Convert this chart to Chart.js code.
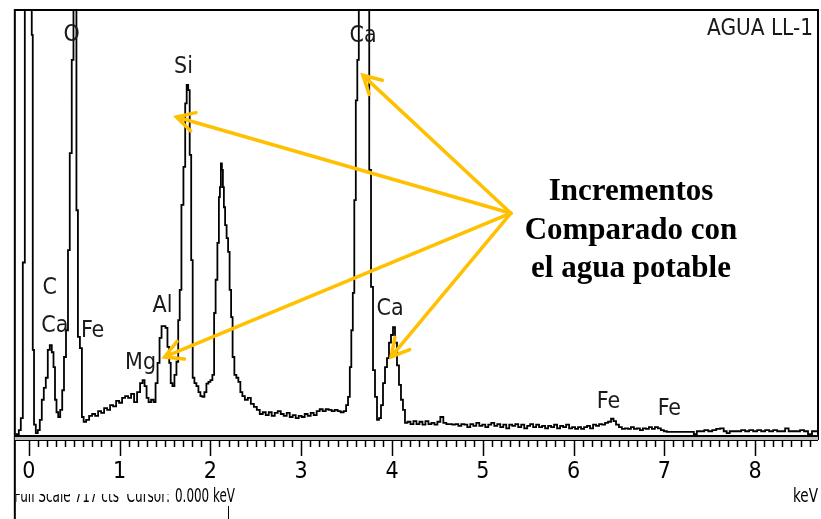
<!DOCTYPE html>
<html>
<head>
<meta charset="utf-8">
<script src="https://cdn.jsdelivr.net/npm/chart.js@4.4.0/dist/chart.umd.min.js"></script>
<style>
  html, body { margin: 0; padding: 0; background: #fff; }
  canvas { display: block; }
</style>
</head>
<body>
<canvas id="myChart" width="821" height="519"></canvas>
<script>
// EDS spectrum "AGUA LL-1": energy (keV) and counts
var energyKeV = [
  -0.154, -0.121, -0.099, -0.077, -0.055, -0.033, -0.011, 0.011, 0.027, 0.038,
  0.049, 0.066, 0.088, 0.110, 0.132, 0.154, 0.176, 0.198, 0.220, 0.242,
  0.264, 0.280, 0.297, 0.313, 0.335, 0.357, 0.379, 0.396, 0.423, 0.440,
  0.462, 0.484, 0.500, 0.516, 0.533, 0.549, 0.577, 0.593, 0.615, 0.648,
  0.681, 0.714, 0.747, 0.780, 0.813, 0.846, 0.879, 0.912, 0.945, 0.978,
  1.011, 1.044, 1.077, 1.110, 1.143, 1.176, 1.209, 1.242, 1.264, 1.286,
  1.308, 1.330, 1.363, 1.385, 1.407, 1.429, 1.451, 1.473, 1.495, 1.516,
  1.538, 1.555, 1.571, 1.593, 1.615, 1.637, 1.654, 1.670, 1.692, 1.714,
  1.731, 1.747, 1.764, 1.780, 1.797, 1.813, 1.835, 1.857, 1.879, 1.901,
  1.923, 1.945, 1.967, 1.989, 2.011, 2.033, 2.049, 2.066, 2.088, 2.099,
  2.110, 2.121, 2.132, 2.143, 2.154, 2.170, 2.187, 2.203, 2.220, 2.236,
  2.253, 2.275, 2.297, 2.319, 2.341, 2.363, 2.396, 2.429, 2.462, 2.495,
  2.527, 2.560, 2.593, 2.626, 2.659, 2.692, 2.725, 2.758, 2.791, 2.824,
  2.857, 2.890, 2.923, 2.956, 2.989, 3.022, 3.055, 3.088, 3.121, 3.154,
  3.187, 3.220, 3.253, 3.286, 3.319, 3.352, 3.385, 3.418, 3.451, 3.484,
  3.505, 3.527, 3.544, 3.560, 3.577, 3.593, 3.610, 3.626, 3.643, 3.659,
  3.681, 3.703, 3.725, 3.741, 3.758, 3.780, 3.802, 3.824, 3.846, 3.868,
  3.890, 3.912, 3.934, 3.956, 3.978, 4.000, 4.022, 4.044, 4.066, 4.088,
  4.110, 4.132, 4.154, 4.187, 4.220, 4.253, 4.286, 4.319, 4.352, 4.385,
  4.418, 4.451, 4.484, 4.516, 4.549, 4.582, 4.615, 4.648, 4.681, 4.714,
  4.747, 4.780, 4.813, 4.846, 4.879, 4.912, 4.945, 4.978, 5.011, 5.044,
  5.077, 5.110, 5.143, 5.176, 5.209, 5.242, 5.275, 5.308, 5.341, 5.374,
  5.407, 5.440, 5.473, 5.505, 5.538, 5.571, 5.604, 5.637, 5.670, 5.703,
  5.736, 5.769, 5.802, 5.835, 5.868, 5.901, 5.934, 5.967, 6.000, 6.033,
  6.066, 6.099, 6.132, 6.165, 6.198, 6.231, 6.264, 6.297, 6.330, 6.363,
  6.396, 6.429, 6.451, 6.484, 6.516, 6.549, 6.582, 6.615, 6.648, 6.681,
  6.714, 6.747, 6.780, 6.813, 6.846, 6.879, 6.912, 6.945, 6.978, 7.011,
  7.044, 7.088, 7.132, 7.176, 7.220, 7.264, 7.308, 7.341, 7.374, 7.418,
  7.462, 7.505, 7.549, 7.593, 7.637, 7.670, 7.703, 7.736, 7.780, 7.824,
  7.868, 7.912, 7.956, 8.000, 8.044, 8.088, 8.132, 8.176, 8.220, 8.264,
  8.308, 8.352, 8.385, 8.429, 8.473, 8.516, 8.560, 8.604, 8.648, 8.692
];
var counts = [
  0, 3, 10, 30, 292, 900, 1400, 1400, 800, 675,
  145, 19, 5, 10, 27, 61, 81, 98, 145, 153,
  141, 116, 61, 40, 32, 44, 77, 133, 178, 313,
  476, 633, 1000, 1300, 380, 167, 148, 32, 24, 27,
  34, 37, 34, 42, 39, 47, 44, 52, 50, 59,
  56, 64, 67, 64, 71, 57, 74, 89, 94, 84,
  64, 57, 61, 57, 89, 123, 165, 185, 185, 182,
  150, 123, 89, 84, 103, 125, 195, 246, 389, 453,
  560, 591, 582, 473, 296, 98, 89, 84, 74, 67,
  66, 74, 88, 91, 94, 103, 207, 263, 325, 402,
  419, 459, 448, 419, 385, 355, 333, 310, 246, 200,
  133, 103, 98, 91, 74, 67, 61, 64, 54, 49,
  44, 37, 40, 35, 40, 34, 39, 42, 37, 34,
  39, 32, 35, 30, 34, 32, 37, 34, 39, 35,
  42, 45, 42, 45, 44, 42, 44, 42, 40, 42,
  52, 66, 116, 178, 241, 397, 565, 633, 900, 1400,
  1600, 1600, 1300, 800, 448, 251, 111, 66, 27, 30,
  52, 89, 116, 131, 157, 170, 183, 157, 119, 86,
  61, 44, 22, 24, 20, 25, 20, 24, 19, 25,
  20, 22, 19, 24, 32, 22, 20, 20, 19, 20,
  17, 20, 19, 15, 20, 17, 22, 17, 19, 15,
  19, 22, 17, 20, 15, 19, 13, 19, 17, 20,
  15, 19, 13, 17, 20, 15, 19, 15, 17, 13,
  17, 15, 19, 13, 17, 15, 19, 13, 15, 12,
  15, 12, 15, 17, 13, 19, 17, 20, 19, 22,
  24, 29, 25, 19, 15, 12, 13, 12, 15, 12,
  13, 10, 13, 12, 15, 12, 15, 13, 10, 8,
  7, 7, 7, 7, 7, 7, 7, 3, 8, 8,
  10, 8, 10, 12, 13, 8, 5, 8, 8, 8,
  10, 8, 10, 8, 10, 8, 10, 8, 10, 8,
  8, 13, 8, 8, 8, 10, 8, 3, 8, 8
];

// axis range and full scale
var xMin = -0.154, xMax = 8.692;
var fullScale = 717;
var tickKeV = [0, 1, 2, 3, 4, 5, 6, 7, 8];

// element labels: text, keV, counts (label centre)
var peakNames = ['O', 'Si', 'Ca', 'C', 'Ca', 'Fe', 'Al', 'Mg', 'Ca', 'Fe', 'Fe'];
var peakLabelKeV = [0.473, 1.703, 3.681, 0.231, 0.286, 0.703, 1.473, 1.231, 3.978, 6.385, 7.055];
var peakLabelCts = [675, 621, 673, 249, 185, 177, 219, 123, 214, 57, 45];

// arrows from the note to the peaks
var arrowFrom = [5.31, 375];
var arrowTipKeV = [1.626, 3.68, 1.495, 3.99];
var arrowTipCts = [537, 607, 133, 133];

var noteLines = ['Incrementos', 'Comparado con', 'el agua potable'];

var narrow = '"Liberation Sans Narrow", "DejaVu Sans Condensed", "Liberation Sans", sans-serif';

var points = energyKeV.map(function (e, i) { return { x: e, y: counts[i] }; });

// text squeezed sideways to a given width, like the instrument's bitmap font
function fitText(c, text, x, y, width, align) {
  var sx = width / c.measureText(text).width;
  var left = align === 'right' ? x - width : x;
  c.save();
  c.translate(left, y);
  c.scale(sx, 1);
  c.textAlign = 'left';
  c.fillText(text, 0, 0);
  c.restore();
}

var decorations = {
  id: 'decorations',
  afterDraw: function (chart) {
    var c = chart.ctx, xs = chart.scales.x, ys = chart.scales.y, a = chart.chartArea;
    c.save();

    // frame
    c.strokeStyle = '#000';
    c.lineWidth = 2;
    c.beginPath();
    c.moveTo(a.left, 519); c.lineTo(a.left, a.top); c.lineTo(a.right, a.top); c.lineTo(a.right, a.bottom + 4);
    c.stroke();
    // baseline ruler
    c.fillStyle = '#c0c0c0';
    c.fillRect(a.left, a.bottom + 1, a.right - a.left, 3);
    c.beginPath();
    c.moveTo(a.left, a.bottom); c.lineTo(a.right, a.bottom);
    c.stroke();
    c.lineWidth = 1;
    c.beginPath();
    c.moveTo(a.left, a.bottom + 4.5); c.lineTo(a.right, a.bottom + 4.5);
    c.stroke();
    c.lineWidth = 1.5;
    for (var i = 0; i <= 86; i++) {
      var px = Math.round(xs.getPixelForValue(i / 10)) + 0.5;
      var len = (i % 10 === 0) ? 15 : 6;
      c.beginPath();
      c.moveTo(px, a.bottom + 5); c.lineTo(px, a.bottom + 5 + len);
      c.stroke();
    }

    // element labels
    c.fillStyle = '#1a1a1a';
    c.font = '23px ' + narrow;
    c.textAlign = 'center';
    c.textBaseline = 'middle';
    peakNames.forEach(function (n, i) {
      c.fillText(n, xs.getPixelForValue(peakLabelKeV[i]), ys.getPixelForValue(peakLabelCts[i]));
    });
    fitText(c, 'AGUA LL-1', a.right - 5, 29, 106, 'right');

    // arrows
    var ox = xs.getPixelForValue(arrowFrom[0]), oy = ys.getPixelForValue(arrowFrom[1]);
    c.strokeStyle = '#FFC000';
    c.lineWidth = 3.5;
    c.lineCap = 'round';
    arrowTipKeV.forEach(function (k, i) {
      var tx = xs.getPixelForValue(k), ty = ys.getPixelForValue(arrowTipCts[i]);
      var ang = Math.atan2(oy - ty, ox - tx);
      c.beginPath();
      c.moveTo(ox, oy); c.lineTo(tx, ty);
      c.moveTo(tx + 20 * Math.cos(ang - 0.5), ty + 20 * Math.sin(ang - 0.5));
      c.lineTo(tx, ty);
      c.lineTo(tx + 20 * Math.cos(ang + 0.5), ty + 20 * Math.sin(ang + 0.5));
      c.stroke();
    });

    // note
    c.fillStyle = '#000';
    c.font = 'bold 31px "Liberation Serif", "Times New Roman", serif';
    c.textAlign = 'center';
    c.textBaseline = 'alphabetic';
    noteLines.forEach(function (t, i) {
      c.fillText(t, 631, 200 + i * 38.5);
    });

    // status line
    c.fillStyle = '#000';
    c.font = '20px ' + narrow;
    c.save();
    c.beginPath();
    c.rect(a.left + 1, 494, 160, 25);
    c.clip();
    fitText(c, 'Full Scale 717 cts  Cursor:', 14, 502, 156, 'left');
    c.restore();
    fitText(c, '0.000 keV', 175, 502, 60, 'left');
    fitText(c, 'keV', 818, 502, 25, 'right');
    c.strokeStyle = '#000';
    c.lineWidth = 1;
    c.lineCap = 'butt';
    c.beginPath();
    c.moveTo(228.5, 506); c.lineTo(228.5, 519);
    c.stroke();

    c.restore();
  }
};

var ctx = document.getElementById('myChart');
var myChart = new Chart(ctx, {
  type: 'line',
  data: {
    datasets: [{
      data: points,
      borderColor: '#000',
      borderWidth: 1.8,
      pointRadius: 0,
      stepped: 'middle',
      fill: false
    }]
  },
  options: {
    responsive: false,
    animation: false,
    layout: { padding: { left: 13, right: 3, top: 10, bottom: 0 } },
    plugins: { legend: { display: false }, tooltip: { enabled: false } },
    scales: {
      x: {
        type: 'linear',
        min: xMin,
        max: xMax,
        afterFit: function (s) { s.height = 83; },
        afterBuildTicks: function (s) { s.ticks = tickKeV.map(function (v) { return { value: v }; }); },
        grid: { display: false, drawTicks: false },
        border: { display: false },
        ticks: {
          autoSkip: false,
          maxRotation: 0,
          padding: 22,
          color: '#000',
          font: { family: narrow, size: 23 }
        }
      },
      y: { display: false, min: 0, max: fullScale }
    }
  },
  plugins: [decorations]
});
</script>
</body>
</html>
